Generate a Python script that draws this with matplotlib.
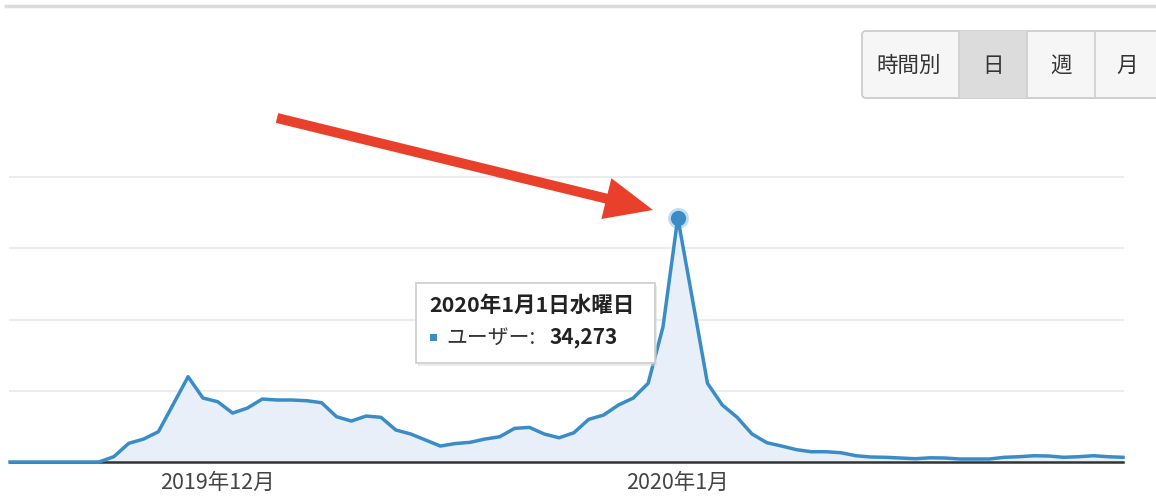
import numpy as np
import pandas as pd
import matplotlib
matplotlib.use("Agg")
import matplotlib.pyplot as plt
from matplotlib.patches import FancyArrow, Rectangle, FancyBboxPatch

plt.rcParams['font.family'] = ['Noto Sans CJK JP', 'DejaVu Sans']

# daily users, 2019-11-17 .. 2020-01-31
dates = pd.date_range("2019-11-17", "2020-01-31", freq="D")
users = [
    0, 0, 0, 0, 0, 0, 0,
    750, 2620, 3220, 4250, 8100, 11970, 8980,
    8460, 6870, 7570, 8840, 8700, 8700, 8600, 8320, 6360, 5750, 6450, 6270,
    4490, 3930, 3090, 2240, 2590, 2760, 3220, 3540, 4720, 4860, 3930, 3400,
    4110, 5990, 6590, 8000, 8980, 11040, 18940,
    34273, 22700, 11040, 8000, 6270, 3930, 2710, 2240, 1730, 1440, 1440,
    1300, 880, 700, 660, 560, 460, 590, 560, 420, 420, 420, 660, 740, 880,
    840, 660, 740, 880, 740, 660,
]
grid_values = [10000, 20000, 30000, 40000]
tick_dates = [pd.Timestamp("2019-12-01"), pd.Timestamp("2020-01-01")]
tick_labels = ["2019年12月", "2020年1月"]
buttons = ["時間別", "日", "週", "月"]
tooltip_title = "2020年1月1日水曜日"
series_name = "ユーザー"

line_color = "#3a8cc6"
fill_color = "#e8eff8"

W, H = 1156, 503
fig = plt.figure(figsize=(W / 100, H / 100), dpi=100, facecolor="white")

# main chart area (pixel box 10..1123 x 177..462)
ax = fig.add_axes([10 / W, (H - 462) / H, 1113 / W, 285 / H])
ax.set_xlim(dates[0], dates[-1])
ax.set_ylim(0, 40000)
for g in grid_values:
    ax.axhline(g, color="#ececec", linewidth=1.5, zorder=0, clip_on=False)

ax.fill_between(dates, users, 0, color=fill_color, zorder=1, linewidth=0)
ax.plot(dates, users, color=line_color, linewidth=2.5, zorder=3, clip_on=False,
        solid_joinstyle="round")

peak = int(np.argmax(users))
ax.plot(dates[peak], users[peak], "o", ms=15, color=line_color, alpha=0.3, zorder=4, clip_on=False,
        markeredgewidth=0)
ax.plot(dates[peak], users[peak], "o", ms=11, color=line_color, zorder=5, clip_on=False,
        markeredgewidth=0)

for s in ["top", "left", "right"]:
    ax.spines[s].set_visible(False)
ax.spines["bottom"].set_color("#333333")
ax.spines["bottom"].set_linewidth(1.8)
ax.spines["bottom"].set_zorder(2)
ax.set_yticks([])
ax.set_xticks(tick_dates)
ax.set_xticklabels(tick_labels, fontsize=15.5, color="#444444")
ax.tick_params(axis="x", length=0, pad=7)
ax.set_facecolor("none")

# overlay in pixel coordinates for the decorations
ov = fig.add_axes([0, 0, 1, 1], zorder=5)
ov.set_xlim(0, W)
ov.set_ylim(H, 0)
ov.axis("off")
ov.patch.set_alpha(0)

# top border line
ov.plot([4, W], [6, 6], color="#dcdcdc", linewidth=2.5, solid_capstyle="butt")

# period buttons
ov.add_patch(FancyBboxPatch((864, 33), 320, 66, boxstyle="round,pad=0,rounding_size=4",
                            facecolor="#dddddd", edgecolor="none", alpha=0.6))
ov.add_patch(FancyBboxPatch((862, 31), 320, 67, boxstyle="round,pad=0,rounding_size=4",
                            facecolor="#f6f6f6", edgecolor="#c9c9c9", linewidth=1.2))
ov.add_patch(Rectangle((959, 31), 68, 67, facecolor="#dcdcdc", edgecolor="none"))
for xd in [959, 1027, 1095]:
    ov.plot([xd, xd], [31, 98], color="#cfcfcf", linewidth=1.2)
for label, xc in zip(buttons, [909, 993, 1061, 1127]):
    ov.text(xc, 66, label, ha="center", va="center", fontsize=15.5, color="#333333")

# tooltip
ov.add_patch(Rectangle((418, 286), 239, 80, facecolor="#d8d8d8", edgecolor="none", alpha=0.5))
ov.add_patch(Rectangle((416, 283), 239, 80, facecolor="white", edgecolor="#cccccc", linewidth=1.2))
ov.text(429, 305, tooltip_title, ha="left", va="center", fontsize=15.5,
        fontweight="bold", color="#222222")
ov.add_patch(Rectangle((430, 334), 7, 7, facecolor=line_color, edgecolor="none"))
ov.text(446, 338, series_name + ":", ha="left", va="center", fontsize=15, color="#333333")
ov.text(550, 338, f"{users[peak]:,}", ha="left", va="center", fontsize=15,
        fontweight="bold", color="#222222")

# red arrow pointing at the peak
ov.add_patch(FancyArrow(277, 118, 653 - 277, 210 - 118, width=10, head_width=42, head_length=48,
                        length_includes_head=True, color="#e8402a", linewidth=0))

fig.savefig("out.png", dpi=100, facecolor="white")
